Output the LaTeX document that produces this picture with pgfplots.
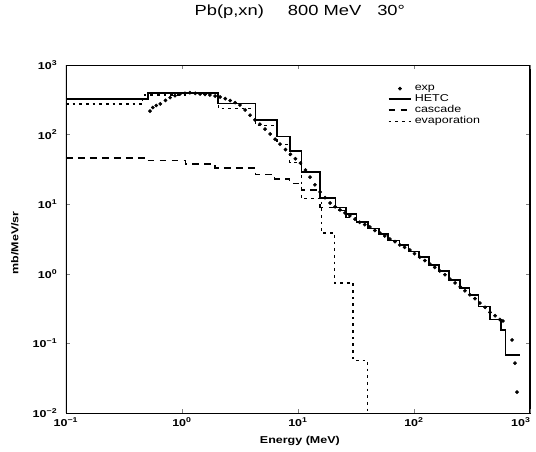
\documentclass[border=0pt]{standalone}
\usepackage{pgfplots}
\pgfplotsset{compat=1.18}
\usepackage{fontspec}
\setmainfont{Liberation Sans}[FakeStretch=1.25]

% measured spectra, E in MeV, d2sigma in mb/MeV/sr
\pgfplotstableread{
E      v
0.53   218
0.56   245
0.60   262
0.65   276
0.72   310
0.79   340
0.87   362
0.96   383
1.06   392
1.17   400
1.30   392
1.43   383
1.58   378
1.74   371
1.93   358
2.13   347
2.36   328
2.60   308
2.87   288
3.16   266
3.50   226
3.86   190
4.25   163
4.70   141
5.20   120
5.76   102
6.35   86
7.00   73
7.80   61
8.60   52
9.50   45
10.5   39
11.6   31
12.7   24.5
14.0   19
15.5   15
17.1   12.4
18.9   10.4
20.9   9.2
23.0   8.3
25.4   7.5
28.0   6.8
31.0   6.1
34.0   5.5
37.6   5.1
41.6   4.7
46.0   4.2
51.0   3.85
56.0   3.5
62.0   3.16
68.5   2.9
75.5   2.6
83.0   2.4
92.0   2.2
101    1.95
112    1.74
124    1.55
137    1.38
151    1.24
167    1.10
185    0.97
204    0.84
226    0.74
250    0.65
275    0.57
303    0.50
335    0.44
370    0.38
410    0.33
452    0.28
500    0.25
550    0.22
585    0.21
700    0.112
742    0.052
773    0.020
}\expdata

\pgfplotstableread{
E      v
0.1    325
0.51   395
1.1    400
2.05   280
4.3    162
6.6    94
8.5    58
10.7   29
15.5   12.4
21     9.0
26     7.2
32     5.6
40     4.5
50     3.7
60     3.0
75     2.6
90     2.1
110    1.75
135    1.35
165    1.1
200    0.82
250    0.62
300    0.50
360    0.34
450    0.22
560    0.155
614    0.068
820    0.068
}\hetc

\pgfplotstableread{
E      v
0.1    46
0.5    42.5
1.07   38
1.92   33
4.3    26.5
6.3    23
8.5    20
10.7   16
15.5   9.0
21     8.2
26     6.5
32     5.5
40     4.5
50     3.7
60     3.0
75     2.6
90     2.1
110    1.75
135    1.35
165    1.1
200    0.82
250    0.62
300    0.50
360    0.34
450    0.22
560    0.155
614    0.068
820    0.068
}\cascade

\pgfplotstableread{
E      v
0.1    276
0.46   370
1.1    385
2.05   240
4.3    135
6.6    72
8.5    40
10.7   12
15.9   3.86
20.8   0.74
29.8   0.057
40     0.001
}\evap

\begin{document}
\begin{tikzpicture}
\begin{axis}[
  scale only axis, width=348pt, height=261pt,
  xmode=log, ymode=log,
  xmin=0.1, xmax=1000, ymin=0.01, ymax=1000,
  xtick={0.1,1,10,100},
  xticklabels={10\textsuperscript{−1},10\textsuperscript{0},10\textsuperscript{1},10\textsuperscript{2}},
  extra x ticks={1000},
  extra x tick labels={10\textsuperscript{3}},
  extra x tick style={xticklabel style={anchor=north east, xshift=4pt}},
  ytick={0.01,0.1,1,10,100,1000},
  yticklabels={10\textsuperscript{−2},10\textsuperscript{−1},10\textsuperscript{0},10\textsuperscript{1},10\textsuperscript{2},10\textsuperscript{3}},
  xminorticks=false, yminorticks=false,
  tick align=inside, major tick length=3pt,
  tick label style={font=\fontsize{7.5}{8}\selectfont\bfseries},
  yticklabel style={xshift=-3pt},
  /pgf/number format/assume math mode=true,
  axis line style={line width=0.4pt},
  title={Pb(p,xn)\hspace{18pt}800 MeV\hspace{12pt}30°},
  title style={at={(axis description cs:0.504,1.129)}, anchor=center,
    font=\fontsize{11}{13}\selectfont},
  xlabel={Energy (MeV)},
  xlabel style={at={(axis description cs:0.504,-0.08)}, anchor=center,
    font=\fontsize{7.5}{9}\selectfont\bfseries},
  ylabel={mb/MeV/sr},
  ylabel style={at={(axis description cs:-0.11,0.489)}, anchor=center,
    font=\fontsize{7.5}{9}\selectfont\bfseries},
  legend style={draw=none, fill=none, at={(axis description cs:0.69,0.955)},
    anchor=north west, font=\fontsize{7.5}{9}\selectfont,
    row sep=-2.5pt, inner sep=1pt},
  legend cell align=left,
]
\addplot[only marks, mark=*, mark size=1.2pt, black] table[x=E,y=v] {\expdata};
\addlegendentry{exp}
\addplot[const plot mark left, black, line width=1.2pt] table[x=E,y=v] {\hetc};
\addlegendentry{HETC}
\addplot[const plot mark left, black, line width=1pt, dash pattern=on 5pt off 4pt] table[x=E,y=v] {\cascade};
\addlegendentry{cascade}
\addplot[const plot mark left, black, line width=0.9pt, dash pattern=on 2pt off 3pt] table[x=E,y=v] {\evap};
\addlegendentry{evaporation}
\draw[line width=1.8pt] (rel axis cs:0,0) -- (rel axis cs:0,1);
\draw[line width=1pt] (rel axis cs:1,0) -- (rel axis cs:1,1);
\end{axis}
\pgfresetboundingbox
\path (-49.5pt,-28.5pt) rectangle (352.5pt,309.75pt);
\end{tikzpicture}
\end{document}
